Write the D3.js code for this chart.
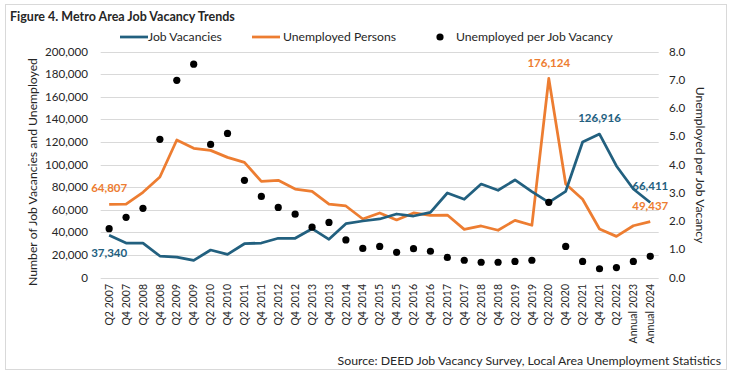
<!DOCTYPE html>
<html>
<head>
<meta charset="utf-8">
<script src="https://cdn.jsdelivr.net/npm/d3@7"></script>
<style>
  body { margin: 0; background: #fff; }
  text { font-family: Lato, "Open Sans", sans-serif; fill: #262626; }
</style>
</head>
<body>
<div id="chart"></div>
<script>
var categories = ["Q2 2007","Q4 2007","Q2 2008","Q4 2008","Q2 2009","Q4 2009","Q2 2010","Q4 2010",
  "Q2 2011","Q4 2011","Q2 2012","Q4 2012","Q2 2013","Q4 2013","Q2 2014","Q4 2014","Q2 2015","Q4 2015",
  "Q2 2016","Q4 2016","Q2 2017","Q4 2017","Q2 2018","Q4 2018","Q2 2019","Q4 2019","Q2 2020","Q4 2020",
  "Q2 2021","Q4 2021","Q2 2022","Annual 2023","Annual 2024"];

var jobVacancies = [37340,30500,30500,19000,18100,15200,24300,20500,29900,30500,34700,34700,43200,33800,
  47600,50000,51800,56200,54400,57700,74800,69200,82700,77200,86300,76000,66500,76300,119900,126916,
  98700,78300,66411];

var unemployed = [64807,65000,75400,88900,121700,114300,112500,106300,101900,85100,86000,78300,76300,65000,
  63300,51800,57100,50900,57100,55000,55300,42600,45600,41800,50600,46200,176124,82700,69200,42900,
  36400,45800,49437];

var ratio = [1.73,2.13,2.45,4.89,6.98,7.55,4.71,5.10,3.44,2.87,2.48,2.24,1.78,1.95,1.33,1.03,1.10,0.89,
  1.02,0.93,0.71,0.61,0.54,0.54,0.57,0.61,2.66,1.10,0.57,0.31,0.35,0.57,0.75];

var leftTicks = [0,20000,40000,60000,80000,100000,120000,140000,160000,180000,200000];
var rightTicks = [0,1,2,3,4,5,6,7,8];

// data labels shown on the chart: [series, index, position]
var labelled = [["u",0,"above"],["v",0,"below"],["u",26,"above"],["v",29,"above"],["v",32,"above"],["u",32,"above"]];

var W = 731, H = 377;
var blue = "#22607f", orange = "#ed7d31";

var svg = d3.select("#chart").append("svg")
  .attr("width", W).attr("height", H);

svg.append("rect")
  .attr("x", 5.5).attr("y", 4.5).attr("width", 721).attr("height", 365)
  .attr("fill", "#fff").attr("stroke", "#d9d9d9");

var x = d3.scaleBand().domain(categories).range([100.7, 658.7]);
var cx = function(i) { return x(categories[i]) + x.bandwidth() / 2; };
var yL = d3.scaleLinear().domain([0, 200000]).range([277.5, 51.5]);
var yR = d3.scaleLinear().domain([0, 8]).range([277.5, 51.5]);

// gridlines
svg.append("g").selectAll("line")
  .data(leftTicks).enter().append("line")
  .attr("x1", 100.7).attr("x2", 658.7)
  .attr("y1", function(d) { return Math.round(yL(d)) + 0.5; })
  .attr("y2", function(d) { return Math.round(yL(d)) + 0.5; })
  .attr("stroke", "#d9d9d9");

// left axis labels
svg.append("g").selectAll("text")
  .data(leftTicks).enter().append("text")
  .attr("x", 88).attr("y", function(d) { return yL(d); })
  .attr("dy", "0.35em").attr("text-anchor", "end")
  .attr("font-size", 11.6)
  .text(function(d) { return d3.format(",")(d); });

// right axis labels
svg.append("g").selectAll("text")
  .data(rightTicks).enter().append("text")
  .attr("x", 669).attr("y", function(d) { return yR(d); })
  .attr("dy", "0.35em").attr("text-anchor", "start")
  .attr("font-size", 11.6)
  .text(function(d) { return d3.format(".1f")(d); });

// x labels
svg.append("g").selectAll("text")
  .data(categories).enter().append("text")
  .attr("transform", function(d, i) { return "translate(" + cx(i) + ",284) rotate(-90)"; })
  .attr("dy", "0.35em").attr("text-anchor", "end")
  .attr("font-size", 10.5)
  .text(function(d) { return d; });

// axis titles
svg.append("text")
  .attr("transform", "translate(33,172) rotate(-90)")
  .attr("dy", "0.35em").attr("text-anchor", "middle")
  .attr("font-size", 12.2)
  .text("Number of Job Vacancies and Unemployed");

svg.append("text")
  .attr("transform", "translate(700,165) rotate(90)")
  .attr("dy", "0.35em").attr("text-anchor", "middle")
  .attr("font-size", 12.2)
  .text("Unemployed per Job Vacancy");

// lines
var lineV = d3.line().x(function(d, i) { return cx(i); }).y(function(d) { return yL(d); });

svg.append("path").datum(unemployed)
  .attr("d", lineV).attr("fill", "none")
  .attr("stroke", orange).attr("stroke-width", 2.75).attr("stroke-linejoin", "round");

svg.append("path").datum(jobVacancies)
  .attr("d", lineV).attr("fill", "none")
  .attr("stroke", blue).attr("stroke-width", 2.75).attr("stroke-linejoin", "round");

// ratio dots
svg.append("g").selectAll("circle")
  .data(ratio).enter().append("circle")
  .attr("cx", function(d, i) { return cx(i); })
  .attr("cy", function(d) { return yR(d); })
  .attr("r", 3.6).attr("fill", "#000");

// data labels
svg.append("g").selectAll("text")
  .data(labelled).enter().append("text")
  .attr("x", function(d) { return cx(d[1]); })
  .attr("y", function(d) {
    var v = d[0] === "u" ? unemployed[d[1]] : jobVacancies[d[1]];
    return d[2] === "above" ? yL(v) - 16 : yL(v) + 18;
  })
  .attr("dy", "0.35em").attr("text-anchor", "middle")
  .attr("font-size", 11.5).attr("font-weight", "bold")
  .style("fill", function(d) { return d[0] === "u" ? orange : blue; })
  .text(function(d) { return d3.format(",")(d[0] === "u" ? unemployed[d[1]] : jobVacancies[d[1]]); });

// title
svg.append("text")
  .attr("x", 10).attr("y", 17).attr("dy", "0.35em")
  .attr("font-size", 12.5).attr("font-weight", "bold")
  .text("Figure 4. Metro Area Job Vacancy Trends");

// legend
var lg = svg.append("g").attr("font-size", 12.2);
lg.append("line").attr("x1", 120).attr("x2", 148).attr("y1", 37).attr("y2", 37)
  .attr("stroke", blue).attr("stroke-width", 2.75);
lg.append("text").attr("x", 148).attr("y", 37).attr("dy", "0.35em").text("Job Vacancies");
lg.append("line").attr("x1", 252).attr("x2", 280).attr("y1", 37).attr("y2", 37)
  .attr("stroke", orange).attr("stroke-width", 2.75);
lg.append("text").attr("x", 283).attr("y", 37).attr("dy", "0.35em").text("Unemployed Persons");
lg.append("circle").attr("cx", 440).attr("cy", 37).attr("r", 3.6).attr("fill", "#000");
lg.append("text").attr("x", 456).attr("y", 37).attr("dy", "0.35em").text("Unemployed per Job Vacancy");

// source
svg.append("text")
  .attr("x", 721).attr("y", 361).attr("dy", "0.35em")
  .attr("text-anchor", "end").attr("font-size", 12.3)
  .text("Source: DEED Job Vacancy Survey, Local Area Unemployment Statistics");
</script>
</body>
</html>
